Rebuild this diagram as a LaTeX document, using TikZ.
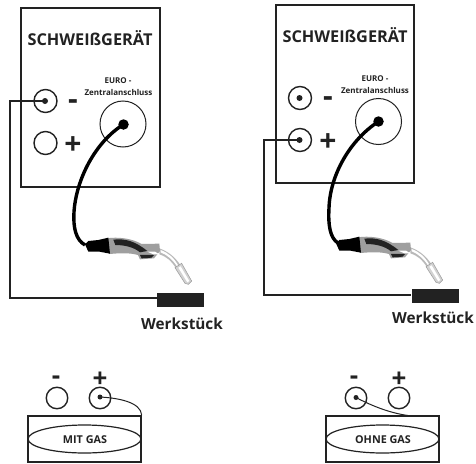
\documentclass[tikz,border=0pt]{standalone}
\usepackage{fontspec}
\setmainfont{Open Sans}
\definecolor{ink}{HTML}{222222}
\tikzset{
  machine/.style={draw=ink,line width=1.9pt,minimum width=138pt,minimum height=178pt,inner sep=0pt},
  socket/.style={circle,draw=ink,line width=1.4pt,minimum size=23pt,inner sep=0pt},
  smallsocket/.style={circle,draw=ink,line width=1.4pt,minimum size=21.5pt,inner sep=0pt},
  euro/.style={circle,draw=ink,line width=1pt,minimum size=46pt,inner sep=0pt},
  pin/.style={circle,fill=ink,minimum size=6pt,inner sep=0pt},
  bigpin/.style={circle,fill=black,minimum size=10.5pt,inner sep=0pt},
  title/.style={text=ink,font=\fontsize{16.3}{16.3}\selectfont\bfseries,inner sep=0pt},
  sign/.style={text=ink,font=\fontsize{30}{30}\selectfont\bfseries,inner sep=0pt},
  smallsign/.style={text=ink,font=\fontsize{26}{26}\selectfont\bfseries,inner sep=0pt},
  eurotext/.style={text=ink,font=\fontsize{8}{8}\selectfont\bfseries,inner sep=0pt},
  piece/.style={fill=ink,minimum width=47pt,minimum height=14pt,inner sep=0pt},
  piecetext/.style={text=ink,font=\fontsize{15.3}{15.3}\selectfont\bfseries,inner sep=0pt},
  wire/.style={draw=ink,line width=1.6pt},
  cable/.style={draw=black,line width=3.4pt},
  thin wire/.style={draw=ink,line width=1pt},
  gasbox/.style={draw=ink,line width=1.4pt,minimum width=113pt,minimum height=46pt,inner sep=0pt},
  gasring/.style={ellipse,draw=ink,line width=1.2pt,minimum width=113pt,minimum height=28pt,inner sep=0pt},
  gastext/.style={text=ink,font=\fontsize{10.8}{10.8}\selectfont\bfseries,inner sep=0pt},
}
\usetikzlibrary{shapes.geometric}
\newcommand{\torch}[2]{%
 \begin{scope}[shift={(#1,#2)},x=0.3333pt,y=-0.3333pt]
  % tip tube
  \fill[gray!55] (298,160) .. controls (325,170) and (345,185) .. (362,212) -- (348,220) .. controls (335,198) and (320,185) .. (298,178) -- cycle;
  \fill[white] (302,165) .. controls (325,174) and (342,188) .. (355,212) -- (351,214) .. controls (338,194) and (322,180) .. (302,172) -- cycle;
  \fill[gray!35,draw=gray!80,line width=0.5pt] (345,218) -- (365,205) -- (395,258) -- (385,268) -- (375,265) -- cycle;
  \fill[white] (355,218) -- (362,214) -- (388,258) -- (382,262) -- cycle;
  % handle
  \fill[gray!75] (140,130) .. controls (175,125) and (215,130) .. (245,147) -- (298,146) -- (300,168) -- (282,190) -- (240,193) -- (234,180) .. controls (205,172) and (175,175) .. (148,177) -- (140,170) -- cycle;
  % grip
  \fill[ink] (160,134) .. controls (195,130) and (225,138) .. (262,168) -- (240,172) .. controls (220,155) and (190,150) .. (166,150) -- cycle;
  \fill[ink] (240,180) -- (282,180) -- (275,188) -- (245,190) -- cycle;
  \fill[white] (262,170) -- (285,170) -- (298,178) -- (280,178) -- cycle;
  % boot
  \fill[black] (75,148) -- (85,138) -- (115,135) -- (145,128) -- (150,176) -- (118,170) -- (85,170) -- cycle;
 \end{scope}}
\begin{document}
\begin{tikzpicture}[x=1pt,y=-1pt]
\useasboundingbox (0,0) rectangle (476,463);
\fill[white] (0,0) rectangle (476,463);
% ---------- left machine
\node[machine,minimum width=139pt,minimum height=179pt] (m1) at (90.5,97.5) {};
\node[title] (t1) at (90,38.5) {SCHWEIßGERÄT};
\node[eurotext] (e1a) at (118,80.5) {EURO -};
\node[eurotext] (e1b) at (118.5,92) {Zentralanschluss};
\node[socket] (s1m) at (45.5,101) {};
\node[socket] (s1p) at (45.5,143) {};
\node[euro] (eu1) at (123,124) {};
\node[pin] (p1m) at (45,101) {};
\node[bigpin] (b1) at (123.5,124.5) {};
\node[sign] (sg1m) at (73,104.5) {-};
\node[sign] (sg1p) at (73,146) {+};
\node[piece] (w1) at (180.5,300) {};
\node[piecetext] (wt1) at (182,324) {Werkstück};
\coordinate (c1a) at (10,101);
\coordinate (c1b) at (10,298);
\draw[wire] (p1m.center) -- (c1a) -- (c1b) -- (w1.west |- c1b);
\coordinate (h1) at (85,245);
\draw[cable] (b1.center) .. controls (95,142) and (76,180) .. (74,212) .. controls (73,228) and (76,240) .. (h1);
\torch{60}{195}
% ---------- right machine
\node[machine] (m2) at (345,94) {};
\node[title] (t2) at (345,35.5) {SCHWEIßGERÄT};
\node[eurotext] (e2a) at (375,79) {EURO -};
\node[eurotext] (e2b) at (375,90.5) {Zentralanschluss};
\node[socket] (s2m) at (300,98) {};
\node[socket] (s2p) at (300,140) {};
\node[euro] (eu2) at (378.5,121.5) {};
\node[pin] (p2m) at (299.5,98) {};
\node[pin] (p2p) at (299.5,140) {};
\node[bigpin] (b2) at (378.5,121.5) {};
\node[sign] (sg2m) at (328,101.5) {-};
\node[sign] (sg2p) at (328,143) {+};
\node[piece] (w2) at (435,296) {};
\node[piecetext] (wt2) at (433,318) {Werkstück};
\coordinate (c2a) at (264,140);
\coordinate (c2b) at (264,295);
\draw[wire] (p2p.center) -- (c2a) -- (c2b) -- (w2.west |- c2b);
\coordinate (h2) at (338,243);
\draw[cable] (b2.center) .. controls (350,140) and (330,175) .. (329,208) .. controls (328,225) and (330,238) .. (h2);
\torch{311}{194}
% ---------- bottom left
\node[smallsocket] (a1) at (57,398) {};
\node[smallsocket] (a2) at (100,398) {};
\node[pin,minimum size=5pt] (ap) at (100,397) {};
\node[smallsign] (as1) at (56,380) {-};
\node[smallsign] (as2) at (100,380) {+};
\node[gasbox] (g1) at (84.5,439) {};
\node[gasring] (r1) at (84.5,439) {};
\node[gastext] (gt1) at (85,439.5) {MIT GAS};
\draw[thin wire] (ap.center) .. controls (118,398) and (141,402) .. (g1.north east);
% ---------- bottom right
\node[smallsocket] (d1) at (356,398) {};
\node[smallsocket] (d2) at (399,398) {};
\node[pin,minimum size=5pt] (dp) at (356,397.5) {};
\node[smallsign] (ds1) at (354,380) {-};
\node[smallsign] (ds2) at (399,380) {+};
\node[gasbox] (g2) at (382.5,439) {};
\node[gasring] (r2) at (382.5,439) {};
\node[gastext] (gt2) at (383,440) {OHNE GAS};
\coordinate (dj) at (412,416);
\draw[thin wire] (dp.center) .. controls (372,406) and (392,414) .. (dj);
\end{tikzpicture}
\end{document}
